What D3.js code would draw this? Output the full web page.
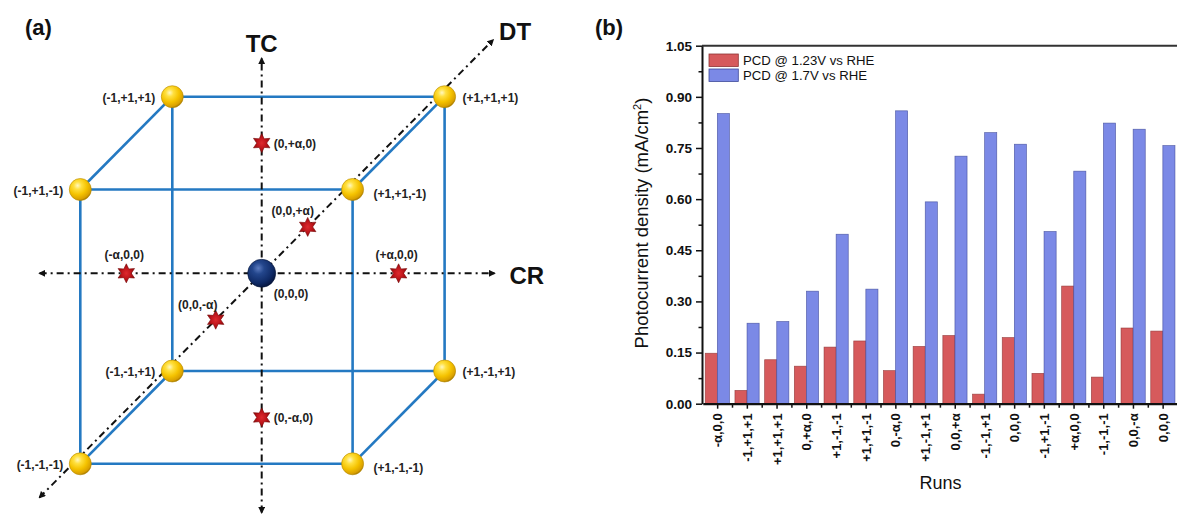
<!DOCTYPE html>
<html><head><meta charset="utf-8">
<script src="https://cdn.jsdelivr.net/npm/d3@7"></script>
<style>
body{margin:0;background:#fff}
svg{display:block;background:#fff}
text{font-family:"Liberation Sans",Arial,sans-serif}
</style>
</head><body>
<svg id="c" width="1177" height="514"></svg>
<script>
// ---------- Panel (a) data : central composite design ----------
const cubeVertices = [[-1,1,1],[1,1,1],[-1,1,-1],[1,1,-1],[-1,-1,1],[1,-1,1],[-1,-1,-1],[1,-1,-1]];
const vertexLabels = ["(-1,+1,+1)","(+1,+1,+1)","(-1,+1,-1)","(+1,+1,-1)","(-1,-1,+1)","(+1,-1,+1)","(-1,-1,-1)","(+1,-1,-1)"];
const alpha = 1;
const axialPoints = [[0,alpha,0],[0,-alpha,0],[-alpha,0,0],[alpha,0,0],[0,0,alpha],[0,0,-alpha]];
const axialLabels = ["(0,+α,0)","(0,-α,0)","(-α,0,0)","(+α,0,0)","(0,0,+α)","(0,0,-α)"];
const centerPoint = [0,0,0];
const centerLabel = "(0,0,0)";
const axisNames = ["CR","TC","DT"];
const axisExtents = [[-1.64,1.70],[-1.66,1.65],[-4.83,5.03]];

// ---------- Panel (b) data : photocurrent density per run ----------
const runs = ["-α,0,0","-1,+1,+1","+1,+1,+1","0,+α,0","+1,-1,-1","+1,+1,-1","0,-α,0","+1,-1,+1","0,0,+α","-1,-1,+1","0,0,0","-1,+1,-1","+α,0,0","-1,-1,-1","0,0,-α","0,0,0"];
const pcd123 = [0.148,0.039,0.129,0.110,0.166,0.184,0.097,0.168,0.200,0.028,0.194,0.089,0.345,0.078,0.222,0.213];
const pcd17  = [0.851,0.236,0.241,0.330,0.497,0.336,0.859,0.592,0.726,0.795,0.761,0.505,0.682,0.823,0.805,0.757];
const seriesNames = ["PCD @ 1.23V vs RHE","PCD @ 1.7V vs RHE"];
const yTicks = [0,0.15,0.30,0.45,0.60,0.75,0.90,1.05];

const svg = d3.select("#c");
const defs = svg.append("defs");

// gradients
const yg = defs.append("radialGradient").attr("id","gYellow").attr("cx","38%").attr("cy","32%").attr("r","70%");
[["0%","#fff8c0"],["25%","#ffe040"],["60%","#f5c300"],["90%","#d9a000"],["100%","#a87a00"]].forEach(s=>yg.append("stop").attr("offset",s[0]).attr("stop-color",s[1]));
const ng = defs.append("radialGradient").attr("id","gNavy").attr("cx","38%").attr("cy","32%").attr("r","70%");
[["0%","#5d7cc0"],["30%","#23468c"],["75%","#0f2a66"],["100%","#06163e"]].forEach(s=>ng.append("stop").attr("offset",s[0]).attr("stop-color",s[1]));
const rg = defs.append("radialGradient").attr("id","gRed").attr("cx","50%").attr("cy","50%").attr("r","60%");
[["0%","#de2a2e"],["50%","#bd141a"],["100%","#7a0606"]].forEach(s=>rg.append("stop").attr("offset",s[0]).attr("stop-color",s[1]));
defs.append("marker").attr("id","arrow").attr("viewBox","0 0 10 10").attr("refX",8).attr("refY",5)
  .attr("markerWidth",7).attr("markerHeight",7).attr("markerUnits","userSpaceOnUse").attr("orient","auto-start-reverse")
  .append("path").attr("d","M0,0 L10,5 L0,10 z").attr("fill","#111");

// ---------- Panel (a) ----------
const sx = d3.scaleLinear().domain([-1,0,1]).range([126.3,261.7,398.6]);
const sy = d3.scaleLinear().domain([-1,0,1]).range([417.4,273.3,143.1]);
const szx = d3.scaleLinear().domain([-1,1]).range([-46,46]);
const szy = d3.scaleLinear().domain([-1,1]).range([46.4,-46.4]);
const proj = p => [sx(p[0]) + szx(p[2]), sy(p[1]) + szy(p[2])];

const ga = svg.append("g");
ga.append("text").attr("x",25).attr("y",35).attr("font-size",22).attr("font-weight","bold").attr("fill","#111").text("(a)");

// cube edges
const edges = [];
cubeVertices.forEach((a,i)=>cubeVertices.forEach((b,j)=>{
  if (j>i && a.filter((v,k)=>v!==b[k]).length===1) edges.push([a,b]);
}));
ga.selectAll("line.edge").data(edges).join("line").attr("class","edge")
  .attr("x1",d=>proj(d[0])[0]).attr("y1",d=>proj(d[0])[1])
  .attr("x2",d=>proj(d[1])[0]).attr("y2",d=>proj(d[1])[1])
  .attr("stroke","#2479c2").attr("stroke-width",2.6);

// factor axes
const axesData = axisNames.map((n,i)=>{
  const a=[0,0,0], b=[0,0,0]; a[i]=axisExtents[i][0]; b[i]=axisExtents[i][1];
  return {name:n, from:proj(a), to:proj(b)};
});
ga.selectAll("line.ax").data(axesData).join("line").attr("class","ax")
  .attr("x1",d=>d.from[0]).attr("y1",d=>d.from[1]).attr("x2",d=>d.to[0]).attr("y2",d=>d.to[1])
  .attr("stroke","#111").attr("stroke-width",2).attr("stroke-dasharray","7,4,2,4")
  .attr("marker-start","url(#arrow)").attr("marker-end","url(#arrow)");
const axLabelOff = {CR:[15,11,"start"], TC:[0,-6.5,"middle"], DT:[6,0,"start"]};
ga.selectAll("text.axn").data(axesData).join("text").attr("class","axn")
  .attr("x",d=>d.to[0]+axLabelOff[d.name][0]).attr("y",d=>d.to[1]+axLabelOff[d.name][1])
  .attr("text-anchor",d=>axLabelOff[d.name][2])
  .attr("font-size",24).attr("font-weight","bold").attr("fill","#111").text(d=>d.name);

// axial (star) points
const starPath = d3.lineRadial().angle(d=>d[0]).radius(d=>d[1]).curve(d3.curveLinearClosed)(
  d3.range(12).map(k=>[k*Math.PI/6, k%2===0 ? 9.5 : 5.0]));
ga.selectAll("path.star").data(axialPoints).join("path").attr("class","star")
  .attr("d",starPath).attr("transform",d=>`translate(${proj(d)})`)
  .attr("fill","url(#gRed)").attr("stroke","#7a0606").attr("stroke-width",0.6);
const axialLabelPos = p => {
  const q = proj(p);
  if (p[0]!==0) return [q[0]-2, q[1]-18, "middle"];
  if (p[1]!==0) return [q[0]+12, q[1]+1, "start"];
  return p[2]>0 ? [q[0]-15, q[1]-16, "middle"] : [q[0]-18, q[1]-15, "middle"];
};
ga.selectAll("text.axl").data(axialPoints).join("text").attr("class","axl")
  .attr("x",d=>axialLabelPos(d)[0]).attr("y",d=>axialLabelPos(d)[1]).attr("text-anchor",d=>axialLabelPos(d)[2])
  .attr("dominant-baseline","central").attr("font-size",12).attr("font-weight","bold").attr("fill","#222")
  .text((d,i)=>axialLabels[i]);

// cube vertices
ga.selectAll("circle.v").data(cubeVertices).join("circle").attr("class","v")
  .attr("cx",d=>proj(d)[0]).attr("cy",d=>proj(d)[1]).attr("r",11)
  .attr("fill","url(#gYellow)").attr("stroke","#b58a00").attr("stroke-width",0.6);
const vLabelPos = p => {
  const q = proj(p);
  if (p[0]<0) return [q[0]-17, q[1]+1, "end"];
  if (p[2]<0) return [q[0]+21, q[1]+4, "start"];
  return [q[0]+18, q[1]+1, "start"];
};
ga.selectAll("text.vl").data(cubeVertices).join("text").attr("class","vl")
  .attr("x",d=>vLabelPos(d)[0]).attr("y",d=>vLabelPos(d)[1]).attr("text-anchor",d=>vLabelPos(d)[2])
  .attr("dominant-baseline","central").attr("font-size",12).attr("font-weight","bold").attr("fill","#222")
  .text((d,i)=>vertexLabels[i]);

// centre point
const cp = proj(centerPoint);
ga.append("circle").attr("cx",cp[0]).attr("cy",cp[1]).attr("r",14)
  .attr("fill","url(#gNavy)").attr("stroke","#061638").attr("stroke-width",0.6);
ga.append("text").attr("x",cp[0]+12).attr("y",cp[1]+21).attr("dominant-baseline","central")
  .attr("font-size",12).attr("font-weight","bold").attr("fill","#222").text(centerLabel);

// ---------- Panel (b) ----------
const gb = svg.append("g");
gb.append("text").attr("x",595).attr("y",35).attr("font-size",22).attr("font-weight","bold").attr("fill","#111").text("(b)");

const x0 = d3.scaleBand().domain(d3.range(runs.length)).range([702.8,1178]);
const x1 = d3.scaleBand().domain([0,1]).range([-12.4,11.8]);
const y = d3.scaleLinear().domain([0,1.05]).range([403.7,45.7]);
const colors = ["#d65a5c","#7b89e6"];
const strokes = ["#8e3434","#3f4a9a"];
const series = [pcd123, pcd17];

const barG = gb.append("g");
series.forEach((vals,s)=>{
  barG.selectAll(`rect.s${s}`).data(vals).join("rect").attr("class",`s${s}`)
    .attr("x",(d,i)=>x0(i)+x0.bandwidth()/2+x1(s)).attr("width",x1.bandwidth())
    .attr("y",d=>y(d)).attr("height",d=>y(0)-y(d))
    .attr("fill",colors[s]).attr("stroke",strokes[s]).attr("stroke-width",0.7).attr("stroke-opacity",0.8);
});

// top frame line
gb.append("line").attr("x1",702).attr("x2",1177).attr("y1",y(1.05)).attr("y2",y(1.05))
  .attr("stroke","#333").attr("stroke-width",2);

// y axis
const yAx = gb.append("g").attr("transform","translate(702,0)")
  .call(d3.axisLeft(y).tickValues(yTicks).tickFormat(d3.format(".2f")).tickSize(6).tickPadding(4).tickSizeOuter(0));
yAx.select(".domain").attr("stroke","#111").attr("stroke-width",2);
yAx.selectAll(".tick line").attr("stroke","#111").attr("stroke-width",1.5);
yAx.selectAll(".tick text").attr("font-size",13.5).attr("font-weight","bold").attr("fill","#111").attr("font-family","Liberation Sans, Arial, sans-serif");
const yMinor = d3.range(yTicks.length-1).map(i=>(yTicks[i]+yTicks[i+1])/2);
gb.append("g").attr("transform","translate(702,0)")
  .call(d3.axisLeft(y).tickValues(yMinor).tickFormat("").tickSize(3.5).tickSizeOuter(0))
  .call(g=>{g.select(".domain").remove(); g.selectAll("line").attr("stroke","#111").attr("stroke-width",1.5);});

// x axis
const xAx = gb.append("g").attr("transform",`translate(0,${y(0)})`)
  .call(d3.axisBottom(x0).tickFormat(i=>runs[i]).tickSize(5).tickSizeOuter(0));
xAx.select(".domain").attr("stroke","#111").attr("stroke-width",2.2);
xAx.selectAll(".tick line").attr("stroke","#111").attr("stroke-width",1.5);
xAx.selectAll(".tick text").attr("transform","rotate(-90)").attr("x",-9.6).attr("y",0).attr("dy","0.35em")
  .attr("text-anchor","end").attr("font-size",13).attr("font-weight","bold").attr("fill","#111")
  .attr("font-family","Liberation Sans, Arial, sans-serif");
gb.append("g").selectAll("line").data(d3.range(1,runs.length)).join("line")
  .attr("x1",i=>x0(i)).attr("x2",i=>x0(i)).attr("y1",y(0)).attr("y2",y(0)+4)
  .attr("stroke","#111").attr("stroke-width",1.5);

// axis titles
const yt = gb.append("text").attr("transform","translate(648,223) rotate(-90)").attr("text-anchor","middle")
  .attr("font-size",18.5).attr("fill","#111");
yt.append("tspan").text("Photocurrent density (mA/cm");
yt.append("tspan").attr("font-size",11).attr("dy",-7).text("2");
yt.append("tspan").attr("dy",7).text(")");
gb.append("text").attr("x",940.5).attr("y",489).attr("text-anchor","middle").attr("font-size",18).attr("fill","#111").text("Runs");

// legend
const lg = gb.append("g");
seriesNames.forEach((n,s)=>{
  lg.append("rect").attr("x",709).attr("y",54+s*15).attr("width",29.3).attr("height",12.5)
    .attr("fill",colors[s]).attr("stroke",strokes[s]).attr("stroke-width",0.8);
  lg.append("text").attr("x",743).attr("y",60.5+s*15).attr("dominant-baseline","central")
    .attr("font-size",13.2).attr("fill","#111").text(n);
});
</script>
</body></html>
